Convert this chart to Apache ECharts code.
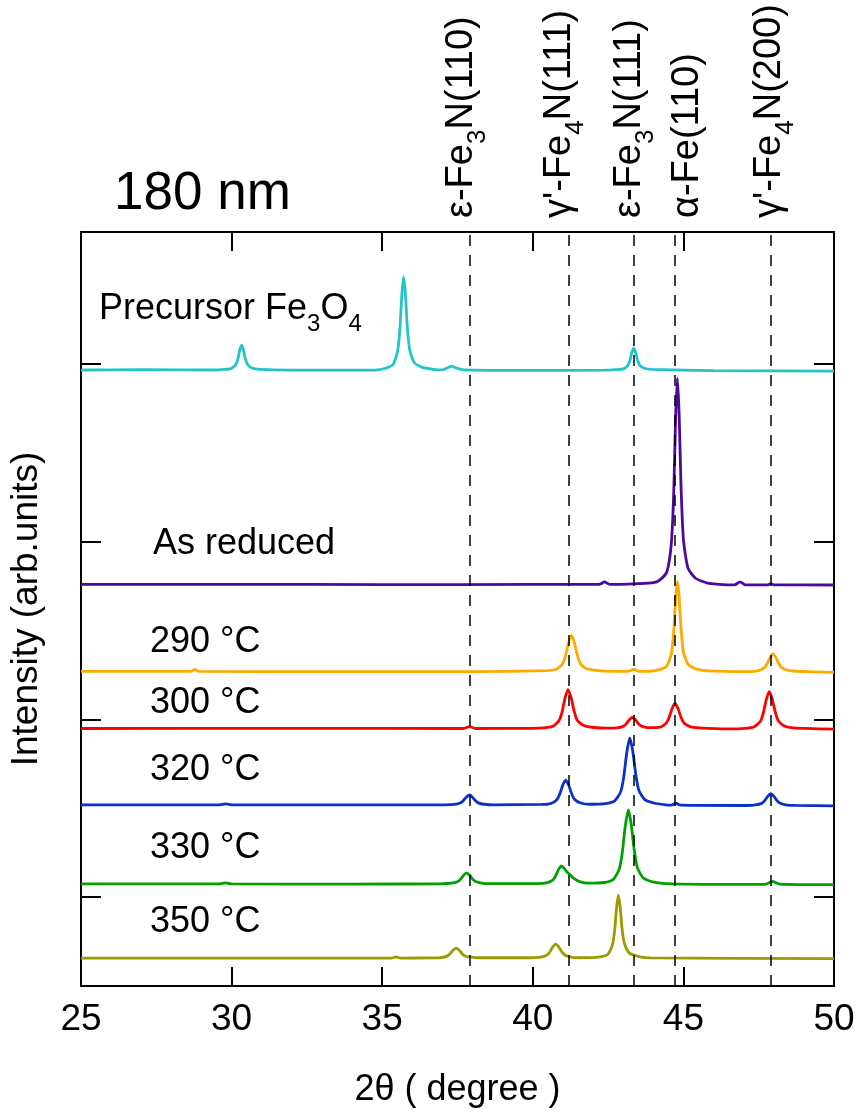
<!DOCTYPE html>
<html><head><meta charset="utf-8">
<script src="https://cdn.jsdelivr.net/npm/echarts@6/dist/echarts.min.js"></script>
<style>html,body{margin:0;padding:0;background:#fff}#c{width:858px;height:1113px}</style>
</head><body><div id="c"></div>
<script>
const FONT = '"Liberation Sans", Arial, Helvetica, sans-serif';

// ---- data ----
const xRange = [25, 50];
const xInterval = 5;
const yTickValues = [0, 100, 200, 300];

const precursor = [
[25,296.4],[27,296.6],[29.5,296.4],
[29.73,296.7],[29.98,297.2],[30.13,299.2],[30.21,302.7],[30.27,307.6],[30.33,310.4],[30.39,307.9],[30.45,303.1],[30.53,299.5],[30.68,297.5],[30.93,296.8],
[33,296.3],[34.8,296.4],
[35.11,297.4],[35.36,299.5],[35.51,306.9],[35.59,319.9],[35.65,338.2],[35.71,348.7],[35.77,339.3],[35.83,321.5],[35.91,307.9],[36.06,300.6],[36.31,298.0],[36.7,296.8],
[37.0,296.5],[37.2,297.8],[37.31,298.6],[37.45,297.6],[37.7,296.5],
[40,296.2],[42.4,296.3],
[42.75,296.6],[43.0,297.0],[43.15,298.9],[43.23,302.0],[43.29,306.3],[43.35,308.6],[43.41,306.5],[43.47,302.4],[43.55,299.1],[43.7,297.4],[43.95,296.8],
[46,296.0],[50,295.8]
];
const asReduced = [
[25,175.8],[30,175.9],[35,175.7],[40,175.8],[42.2,175.8],[42.38,177.2],[42.55,175.8],[43.5,176.3],[44.0,176.8],
[44.2,178.1],[44.45,182.8],[44.6,199.0],[44.68,228.0],[44.74,268.6],[44.8,291.8],[44.86,270.9],[44.92,231.5],[45.0,201.3],[45.15,185.1],[45.4,179.3],[45.8,176.6],
[46.7,175.6],[46.88,177.3],[47.05,175.6],[47.8,175.6],[47.9,176.3],[48.0,175.6],[50,175.5]
];
const t290 = [
[25,126.9],[28.65,126.9],[28.78,128.0],[28.9,126.9],[33,126.8],[38,126.8],
[40.48,127.3],[40.78,128.1],[40.98,130.9],[41.08,135.4],[41.18,142.7],[41.28,147.1],[41.38,143.1],[41.48,136.0],[41.58,131.3],[41.78,128.5],[42.08,127.5],
[42.6,126.9],[43.15,126.9],[43.35,128.0],[43.55,126.9],[43.9,127.0],
[44.2,127.9],[44.45,129.9],[44.6,137.0],[44.68,149.7],[44.74,167.4],[44.8,177.5],[44.86,168.4],[44.92,151.2],[45.0,138.0],[45.15,131.0],[45.4,128.4],[45.8,127.2],
[47.17,126.8],[47.47,127.2],[47.67,128.7],[47.77,130.9],[47.87,134.5],[47.97,136.8],[48.07,134.8],[48.17,131.2],[48.27,128.9],[48.47,127.5],[48.77,127.0],[50,126.4]
];
const t300 = [
[25,94.8],[32,94.9],[37.7,94.8],[37.9,95.9],[38.1,94.8],[40.0,94.9],
[40.37,95.2],[40.67,96.1],[40.87,99.2],[40.97,104.0],[41.07,111.9],[41.17,116.7],[41.27,112.3],[41.37,104.7],[41.47,99.6],[41.67,96.6],[41.97,95.5],
[42.5,95.0],[42.8,95.2],[43.0,96.0],[43.1,97.4],[43.2,99.6],[43.3,101.0],[43.4,99.8],[43.5,97.6],[43.6,96.2],[43.8,95.3],
[44.22,95.6],[44.42,97.6],[44.52,100.7],[44.62,105.8],[44.72,108.9],[44.82,106.1],[44.92,101.1],[45.02,97.9],[45.22,95.9],[45.52,95.2],
[46.5,94.6],[47.05,94.9],[47.35,95.8],[47.55,98.7],[47.65,103.3],[47.75,110.9],[47.85,115.5],[47.95,111.3],[48.05,104.0],[48.15,99.1],[48.35,96.2],[48.65,95.1],[50,94.4]
];
const t320 = [
[25,51.8],[29.6,51.9],[29.8,52.4],[30.0,51.9],[34,51.8],
[37.09,51.9],[37.39,52.1],[37.59,52.9],[37.69,54.2],[37.79,56.2],[37.89,57.4],[37.99,56.3],[38.09,54.3],[38.19,53.0],[38.39,52.2],[38.69,51.9],
[40.29,52.1],[40.59,52.6],[40.79,54.6],[40.89,57.7],[40.99,62.7],[41.09,65.8],[41.19,63.0],[41.29,58.1],[41.39,54.9],[41.59,52.9],[41.89,52.2],
[42.42,52.6],[42.72,54.1],[42.92,59.3],[43.02,67.6],[43.12,81.2],[43.22,89.5],[43.32,82.0],[43.42,68.8],[43.52,60.1],[43.72,54.8],[44.02,52.9],
[44.4,51.9],[44.6,51.7],[44.75,52.8],[44.9,51.7],
[47.1,51.5],[47.4,51.8],[47.6,52.7],[47.7,54.2],[47.8,56.6],[47.9,58.1],[48.0,56.8],[48.1,54.4],[48.2,52.9],[48.4,51.9],[48.7,51.6],[50,51.3]
];
const t330 = [
[25,7.4],[29.6,7.4],[29.8,8.0],[30.0,7.4],[34,7.3],
[37.0,7.5],[37.3,7.8],[37.5,8.6],[37.6,10.0],[37.7,12.2],[37.8,13.6],[37.9,12.4],[38.0,10.2],[38.1,8.8],[38.3,7.9],[38.6,7.6],
[40.15,7.6],[40.45,8.0],[40.65,9.4],[40.75,11.6],[40.85,15.3],[40.95,17.5],[41.05,16.0],[41.15,13.8],[41.25,12.4],[41.35,10.6],[41.55,8.7],[41.85,7.8],
[42.37,8.2],[42.67,9.9],[42.87,15.7],[42.97,24.9],[43.07,39.8],[43.17,49.0],[43.27,40.7],[43.37,26.1],[43.47,16.6],[43.67,10.7],[43.97,8.6],
[44.6,7.4],[47.7,7.1],[47.95,8.8],[48.2,7.3],[50,7.0]
];
const t350 = [
[25,-34.3],[35.3,-34.3],[35.45,-33.6],[35.6,-34.3],
[36.65,-34.2],[36.95,-34.0],[37.15,-33.2],[37.25,-31.9],[37.35,-29.9],[37.45,-28.7],[37.55,-29.8],[37.65,-31.8],[37.75,-33.1],[37.95,-33.8],[38.25,-34.1],
[39.96,-34.1],[40.26,-33.8],[40.46,-32.7],[40.56,-31.0],[40.66,-28.1],[40.76,-26.4],[40.86,-28.0],[40.96,-30.7],[41.06,-32.6],[41.26,-33.7],[41.56,-34.1],
[42.24,-33.6],[42.49,-32.2],[42.64,-27.2],[42.72,-18.4],[42.78,-6.0],[42.84,1.1],[42.90,-5.3],[42.96,-17.3],[43.04,-26.1],[43.19,-31.3],[43.35,-32.6],[43.6,-33.8],[43.9,-34.2],
[50,-34.6]
];

const seriesNames = ['Precursor Fe3O4', 'As reduced', '290 °C', '300 °C', '320 °C', '330 °C', '350 °C'];
const seriesData = [precursor, asReduced, t290, t300, t320, t330, t350];

// curve labels: [text, isSubscript]
const curveLabels = [
  [['Precursor Fe',0],['3',1],['O',0],['4',1]],
  [['As reduced',0]],
  [['290 °C',0]],
  [['300 °C',0]],
  [['320 °C',0]],
  [['330 °C',0]],
  [['350 °C',0]]
];

// reference reflection positions (2θ) and labels
const reflections = [37.9, 41.2, 43.35, 44.7, 47.9];
const reflectionLabels = [
  [['ε-Fe',0],['3',1],['N(110)',0]],
  [["γ'-Fe",0],['4',1],['N(111)',0]],
  [['ε-Fe',0],['3',1],['N(111)',0]],
  [['α-Fe(110)',0]],
  [["γ'-Fe",0],['4',1],['N(200)',0]]
];
const titleText = '180 nm';
const xName = '2θ ( degree )';
const yName = 'Intensity (arb.units)';

// ---- styles / layout ----
const colors = ['#22c4c8', '#4b0a9b', '#ffa800', '#ff0000', '#0a32c8', '#00a000', '#9b9b00'];
const curveLabelPos = [[99,309],[153,544],[150,642],[150,703],[150,770],[150,848],[150,922]];
const reflLabelX = [462, 560, 630, 688, 770];
const reflLabelBottom = 218;

const ctx = document.createElement('canvas').getContext('2d');
function measure(t, fs) { ctx.font = fs + 'px ' + FONT; return ctx.measureText(t).width; }

function richH(parts, x, y, size, subSize, subDy) {
  let cx = x; const out = [];
  parts.forEach(([t, sub]) => {
    const fs = sub ? subSize : size;
    out.push({type:'text', x: cx, y: y + (sub ? subDy : 0), z: 100,
      style:{text:t, font: fs + 'px ' + FONT, fill:'#000', align:'left', verticalAlign:'middle'}});
    cx += measure(t, fs);
  });
  return out;
}
function richV(parts, x, y, size, subSize, subDx) {
  let cy = y; const out = [];
  parts.forEach(([t, sub]) => {
    const fs = sub ? subSize : size;
    out.push({type:'text', x: x + (sub ? subDx : 0), y: cy, rotation: Math.PI/2, z: 100,
      style:{text:t, font: fs + 'px ' + FONT, fill:'#000', align:'left', verticalAlign:'middle'}});
    cy -= measure(t, fs);
  });
  return out;
}

let graphics = [];
graphics.push({type:'text', x: 114, y: 194, z: 100, style:{text: titleText, font: '53px ' + FONT, fill:'#000', align:'left', verticalAlign:'middle'}});
curveLabels.forEach((parts, i) => {
  graphics = graphics.concat(richH(parts, curveLabelPos[i][0], curveLabelPos[i][1], 36, 24, 15));
});
reflectionLabels.forEach((parts, i) => {
  graphics = graphics.concat(richV(parts, reflLabelX[i], reflLabelBottom, 38, 26, 16));
});

const axisLineStyle = {color:'#000', width:2};
const tickStyle = {color:'#000', width:2};

const chart = echarts.init(document.getElementById('c'), null, {renderer:'canvas'});
const series = seriesData.map((d, i) => ({
  name: seriesNames[i], type:'line', data: d, showSymbol:false, symbol:'none',
  smooth: 0.2,
  lineStyle:{color: colors[i], width: 2.8}, itemStyle:{color: colors[i]}, z: 3, silent: true
}));
series.push({
  type:'line', data: [], z: 2, silent: true,
  markLine: {
    silent: true, symbol: ['none','none'], animation: false,
    label: {show:false},
    lineStyle: {type:[11,9], color:'#000', width:1.5},
    data: reflections.map(v => ({xAxis: v}))
  }
});

chart.setOption({
  animation: false,
  backgroundColor: '#fff',
  grid: {left: 79, right: 24, top: 232, bottom: 127},
  xAxis: [
    {type:'value', min: xRange[0], max: xRange[1], interval: xInterval, position:'bottom',
     axisLine:{show:true, onZero:false, lineStyle: axisLineStyle},
     axisTick:{show:true, inside:true, length:19, lineStyle: tickStyle},
     axisLabel:{fontSize:37, color:'#000', fontFamily: FONT, margin: 15},
     splitLine:{show:false},
     name: xName, nameLocation:'middle', nameGap: 86,
     nameTextStyle:{fontSize:36, color:'#000', fontFamily: FONT}},
    {type:'value', min: xRange[0], max: xRange[1], interval: xInterval, position:'top',
     axisLine:{show:true, onZero:false, lineStyle: axisLineStyle},
     axisTick:{show:true, inside:true, length:19, lineStyle: tickStyle},
     axisLabel:{show:false}, splitLine:{show:false}}
  ],
  yAxis: [
    {type:'value', min: -50, max: 374, position:'left',
     axisLine:{show:true, onZero:false, lineStyle: axisLineStyle},
     axisTick:{show:true, inside:true, length:20, lineStyle: tickStyle, customValues: yTickValues},
     axisLabel:{show:false}, splitLine:{show:false},
     name: yName, nameLocation:'middle', nameGap: 36,
     nameTextStyle:{fontSize:37, color:'#000', fontFamily: FONT}},
    {type:'value', min: -50, max: 374, position:'right',
     axisLine:{show:true, onZero:false, lineStyle: axisLineStyle},
     axisTick:{show:true, inside:true, length:20, lineStyle: tickStyle, customValues: yTickValues},
     axisLabel:{show:false}, splitLine:{show:false}}
  ],
  series: series,
  graphic: graphics
});
</script></body></html>
